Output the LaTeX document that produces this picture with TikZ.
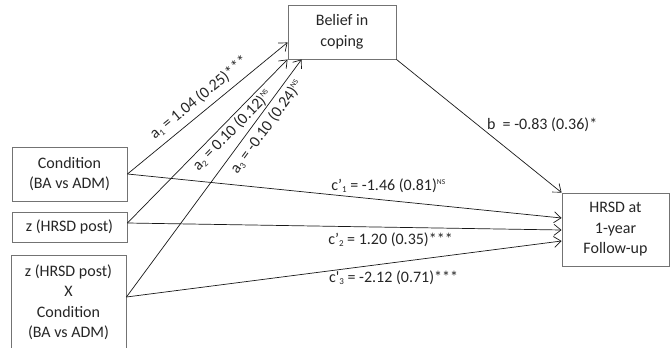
\documentclass[tikz,border=0pt]{standalone}
\usepackage{fontspec}
\setmainfont{Carlito}
\usetikzlibrary{arrows.meta}
\newcommand\mysub[1]{\raisebox{-2.5pt}{\fontsize{9}{9}\selectfont #1}}
\newcommand\mysup[1]{\raisebox{5.5pt}{\fontsize{7.5}{7.5}\selectfont #1}}
\begin{document}
\begin{tikzpicture}[x=1pt, y=-1pt, font=\fontsize{16}{20.5}\selectfont,
  box/.style={draw=black!55, line width=0.9pt, align=center, inner sep=0pt, text=black!85},
  arr/.style={draw=black!90, line width=0.7pt, -{Straight Barb[length=7pt,width=11pt]}},
  lab/.style={inner sep=0pt, text=black!85}]
\useasboundingbox (0,0) rectangle (672,348);
\path[clip] (0,0) rectangle (672,348);
\fill[white] (0,0) rectangle (672,348);
% boxes
\node[box, minimum width=108pt, minimum height=54pt] (bel) at (342,32) {Belief in\\coping};
\node[box, minimum width=115pt, minimum height=54pt] (cond) at (69.5,174) {Condition\\(BA vs ADM)};
\node[box, minimum width=115pt, minimum height=30pt] (z) at (69.5,227) {z (HRSD post)};
\node[box, minimum width=115pt, minimum height=95pt] (int) at (68.5,302.5) {z (HRSD post)\\X\\Condition\\(BA vs ADM)};
\node[box, minimum width=107pt, minimum height=73pt] (hrsd) at (615.5,229.5) {HRSD at\\1-year\\Follow-up};
% a paths
\draw[arr] (cond.east) -- node[lab, sloped, pos=0.5, above=6pt] {a\mysub{1} = 1.04 (0.25)***} ([yshift=17pt]bel.south west);
\draw[arr] ([yshift=4pt]z.east) -- node[lab, sloped, pos=0.61, below=2.5pt] {a\mysub{2} = 0.10 (0.12)\mysup{NS}} (bel.south west);
\draw[arr] ([yshift=5.5pt]int.east) -- node[lab, sloped, pos=0.745, below=4.5pt] {a\mysub{3} = -0.10 (0.24)\mysup{NS}} ([xshift=14pt]bel.south west);
% b path
\draw[arr] (bel.south east) -- node[lab, pos=0.4925, anchor=west, xshift=9pt] {b\ \ = -0.83 (0.36)*} (hrsd.north west);
% c' paths
\draw[arr] (cond.east) -- node[lab, pos=0.601, above=7.5pt] {c’\mysub{1} = -1.46 (0.81)\mysup{NS}} ([yshift=11.5pt]hrsd.west);
\draw[arr] ([yshift=4pt]z.east) -- node[lab, pos=0.606, below=4.8pt] {c’\mysub{2} = 1.20 (0.35)***} ([yshift=-0.5pt]hrsd.west);
\draw[arr] ([yshift=5.5pt]int.east) -- node[lab, pos=0.614, below=7.4pt] {c\textquotesingle\mysub{3} = -2.12 (0.71)***} ([yshift=-11.5pt]hrsd.west);
\end{tikzpicture}
\end{document}
